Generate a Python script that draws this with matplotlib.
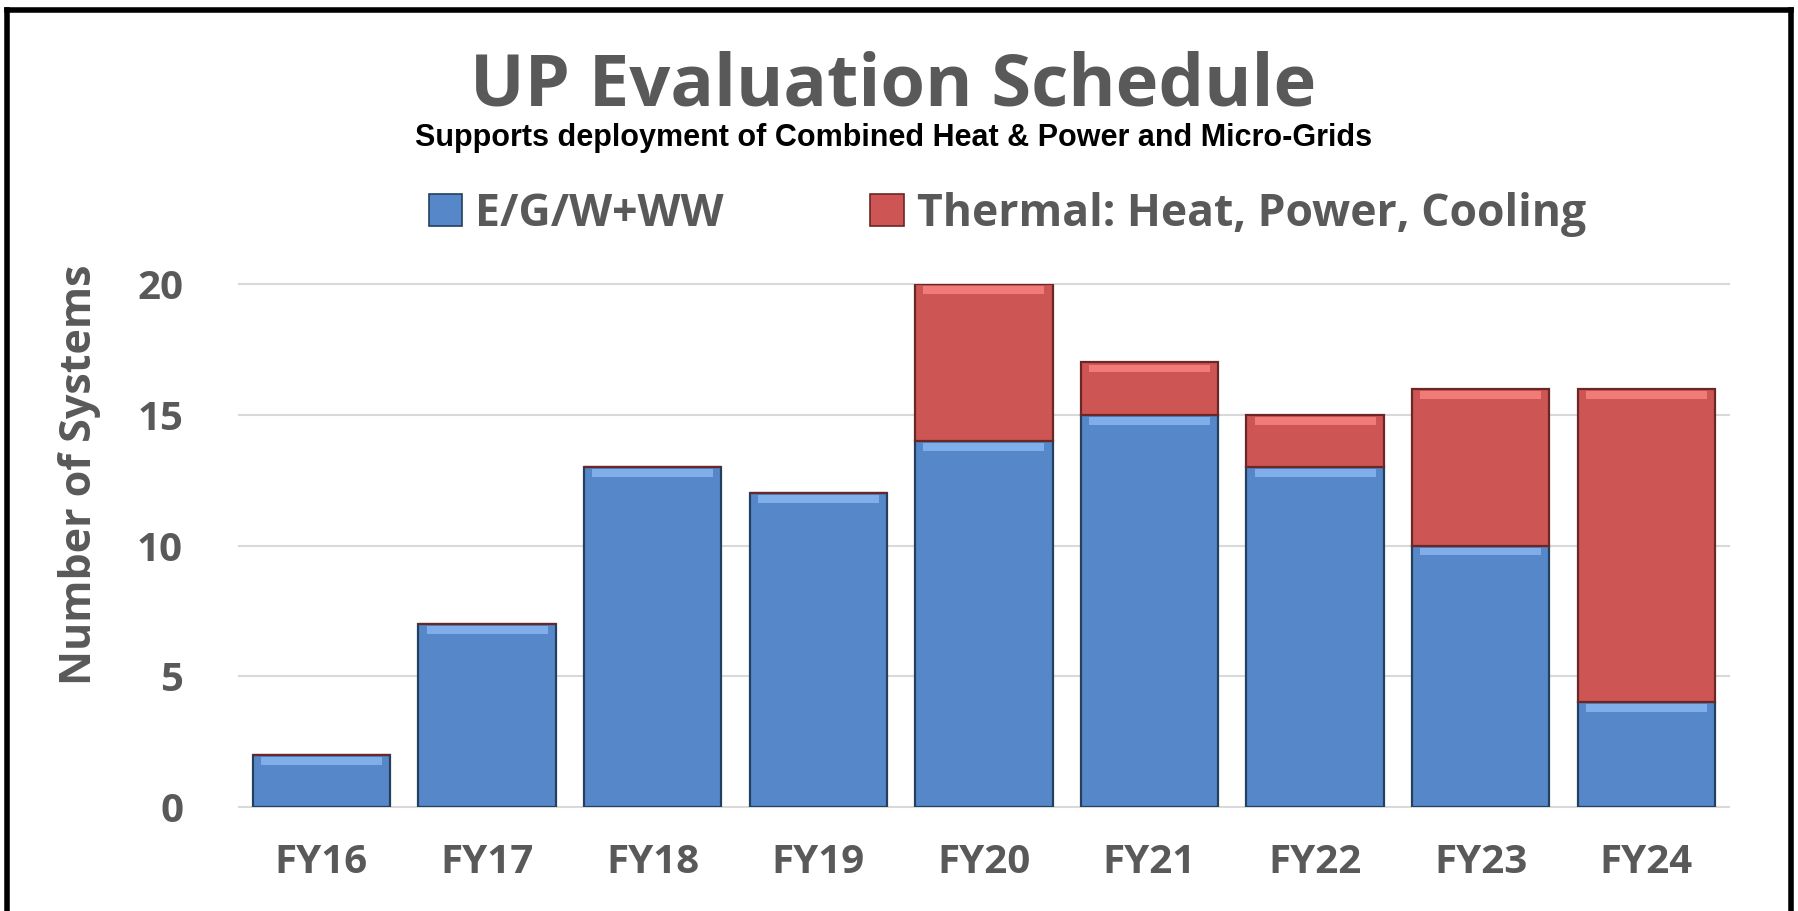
import matplotlib
matplotlib.use("Agg")
import matplotlib.pyplot as plt
import numpy as np
from matplotlib.patches import Patch
from matplotlib.lines import Line2D

categories = ["FY16", "FY17", "FY18", "FY19", "FY20", "FY21", "FY22", "FY23", "FY24"]
egw_ww = [2, 7, 13, 12, 14, 15, 13, 10, 4]
thermal = [0, 0, 0, 0, 6, 2, 2, 6, 12]
yticks = [0, 5, 10, 15, 20]
series_names = ["E/G/W+WW", "Thermal: Heat, Power, Cooling"]
title = "UP Evaluation Schedule"
subtitle = "Supports deployment of Combined Heat & Power and Micro-Grids"
ylabel = "Number of Systems"

BLUE = "#5688C9"
BLUE_HI = "#7FAEEA"
BLUE_EDGE = "#23405F"
RED = "#CD5655"
RED_HI = "#F07B78"
RED_EDGE = "#6B2626"
GRAY = "#595959"
FONT = ["Open Sans", "DejaVu Sans"]
NARROW = ["Liberation Sans Narrow", "Liberation Sans", "DejaVu Sans"]

fig = plt.figure(figsize=(17.98, 9.11), dpi=100)
ax = fig.add_axes([0.1327, 0.1142, 0.829, 0.574])

x = np.arange(len(categories))
egw = np.array(egw_ww, dtype=float)
th = np.array(thermal, dtype=float)
w = 0.83
hi = 0.3

ax.bar(x, egw, width=w, color=BLUE, edgecolor=BLUE_EDGE, linewidth=1.6, zorder=3)
ax.bar(x, np.where(egw > 0, hi, 0), bottom=egw - hi - 0.08, width=w * 0.88,
       color=BLUE_HI, linewidth=0, zorder=4)
ax.bar(x, th, bottom=egw, width=w, color=RED, edgecolor=RED_EDGE, linewidth=1.6, zorder=3)
ax.bar(x, np.where(th > 0, hi, 0), bottom=egw + th - hi - 0.08, width=w * 0.88,
       color=RED_HI, linewidth=0, zorder=4)

ax.set_xlim(-0.5, len(categories) - 0.5)
ax.set_ylim(0, 20)
ax.set_yticks(yticks)
ax.yaxis.grid(True, color="#D9D9D9", linewidth=1.5, zorder=0)
ax.set_axisbelow(True)
for s in ax.spines.values():
    s.set_visible(False)
ax.tick_params(axis="both", length=0, labelsize=29, labelcolor=GRAY)
ax.tick_params(axis="y", pad=40)
ax.tick_params(axis="x", pad=26)
ax.set_xticks(x)
ax.set_xticklabels(categories)
for lab in ax.get_xticklabels() + ax.get_yticklabels():
    lab.set_family(FONT)
    lab.set_fontweight("bold")
ax.set_ylabel(ylabel, fontsize=31, color=GRAY, fontweight="bold", family=FONT)
ax.yaxis.set_label_coords(-0.092, 0.636)
for t in ax.get_ygridlines():
    t.set_clip_on(False)

fig.text(0.497, 0.905, title, ha="center", va="center", fontsize=52,
         fontweight="bold", color=GRAY, family=FONT)
fig.text(0.497, 0.848, subtitle, ha="center", va="center", fontsize=22,
         fontweight="bold", color="black", family=NARROW)

handles = [Patch(facecolor=BLUE, edgecolor=BLUE_EDGE, linewidth=1.2),
           Patch(facecolor=RED, edgecolor=RED_EDGE, linewidth=1.2)]
leg = fig.legend(handles, series_names, loc="center", bbox_to_anchor=(0.5603, 0.765),
                 ncol=2, frameon=False, handlelength=0.75, handleheight=0.75,
                 handletextpad=0.3, columnspacing=3.3,
                 prop={"family": FONT, "weight": "bold", "size": 32})
for t in leg.get_texts():
    t.set_color(GRAY)

# figure border
fig.add_artist(Line2D([0.004, 0.996], [0.989, 0.989], transform=fig.transFigure, color="black", linewidth=4))
fig.add_artist(Line2D([0.004, 0.004], [0.0, 0.989], transform=fig.transFigure, color="black", linewidth=4))
fig.add_artist(Line2D([0.996, 0.996], [0.0, 0.989], transform=fig.transFigure, color="black", linewidth=4))

fig.savefig("out.png", dpi=100)
